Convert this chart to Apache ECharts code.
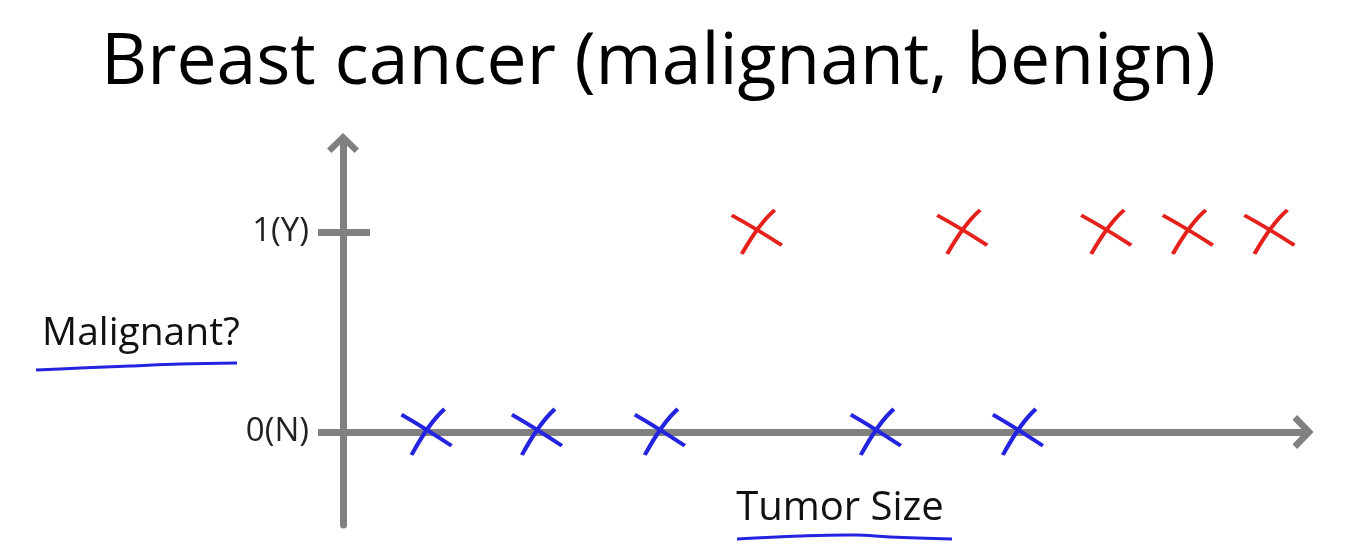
<!DOCTYPE html>
<html>
<head>
<meta charset="utf-8">
<script src="https://cdn.jsdelivr.net/npm/echarts@6/dist/echarts.min.js"></script>
<style>
html,body{margin:0;padding:0;background:#fff;}
#chart{width:1347px;height:560px;}
</style>
</head>
<body>
<div id="chart"></div>
<script>
// ---- data ----
const titleText = 'Breast cancer (malignant, benign)';
const yAxisName = 'Malignant?';
const xAxisName = 'Tumor Size';
const yTickValues = [0, 1];
const yTickLabels = ['0(N)', '1(Y)'];
const malignantSizes = [4.31, 6.45, 7.95, 8.80, 9.65];   // red, y = 1
const malignantValues = [1, 1, 1, 1, 1];
const benignSizes = [0.87, 2.02, 3.30, 5.55, 7.03];      // blue, y = 0
const benignValues = [0, 0, 0, 0, 0];

const FONT = 'Open Sans';
const AXIS = '#808080';
const RED = '#e5211c';
const BLUE = '#2424e0';
const crossPath = 'path://M0 12 Q45 40 100 80 M86 0 Q55 30 20 100';
const chevron = 'path://M50 0 L100 48 L86 62 L50 27 L14 62 L0 48 Z';

const chart = echarts.init(document.getElementById('chart'));
chart.setOption({
  animation: false,
  backgroundColor: '#ffffff',
  title: {
    text: titleText,
    left: 101,
    top: 28,
    padding: 0,
    textStyle: { fontFamily: FONT, fontSize: 71.5, fontWeight: 'normal', color: '#000' }
  },
  grid: { left: 343, right: 44, top: 143, bottom: 35, outerBoundsMode: 'none', containLabel: false },
  xAxis: {
    type: 'value', min: 0, max: 10,
    name: xAxisName, nameLocation: 'middle', nameGap: -36,
    nameTextStyle: { fontFamily: FONT, fontSize: 40, color: '#111', padding: [0, 0, 0, 34] },
    axisLine: { onZero: true, symbol: ['none', chevron], symbolSize: [34, 30],
      lineStyle: { color: AXIS, width: 7 } },
    axisTick: { show: false }, axisLabel: { show: false }, splitLine: { show: false }
  },
  yAxis: [{
    type: 'value', min: -0.465, max: 1.445,
    name: yAxisName, nameLocation: 'middle', nameGap: 101, nameRotate: 0,
    nameTextStyle: { fontFamily: FONT, fontSize: 39, color: '#111', padding: [4, 0, 0, 0] },
    axisLine: { symbol: ['none', chevron], symbolSize: [32, 30],
      lineStyle: { color: AXIS, width: 7 } },
    axisTick: { show: true, inside: false, length: 25, customValues: yTickValues,
      lineStyle: { color: AXIS, width: 7 } },
    axisLabel: { show: true, customValues: yTickValues, margin: 34,
      fontFamily: FONT, fontSize: 33, color: '#222',
      formatter: v => yTickLabels[yTickValues.indexOf(v)] },
    splitLine: { show: false }
  }, {
    type: 'value', min: -0.465, max: 1.445, position: 'left',
    axisLine: { show: false },
    axisTick: { show: true, inside: true, length: 27, customValues: [yTickValues[1]],
      lineStyle: { color: AXIS, width: 7 } },
    axisLabel: { show: false }, splitLine: { show: false }
  }],
  graphic: [
    { type: 'polyline', shape: { points: [[36, 370], [80, 368], [130, 366], [180, 364], [237, 363]], smooth: 0.4 },
      style: { stroke: BLUE, lineWidth: 3, fill: null } },
    { type: 'polyline', shape: { points: [[737, 539], [800, 536], [855, 535], [890, 537], [952, 539]], smooth: 0.4 },
      style: { stroke: BLUE, lineWidth: 3, fill: null } }
  ],
  series: [{
    type: 'scatter',
    data: malignantSizes.map((s, i) => [s, malignantValues[i]]),
    symbol: crossPath, symbolSize: [50, 44],
    itemStyle: { color: 'rgba(0,0,0,0)', borderColor: RED, borderWidth: 4, opacity: 1 }
  }, {
    type: 'scatter',
    data: benignSizes.map((s, i) => [s, benignValues[i]]),
    symbol: crossPath, symbolSize: [50, 46],
    itemStyle: { color: 'rgba(0,0,0,0)', borderColor: BLUE, borderWidth: 4, opacity: 1 }
  }]
});
</script>
</body>
</html>
